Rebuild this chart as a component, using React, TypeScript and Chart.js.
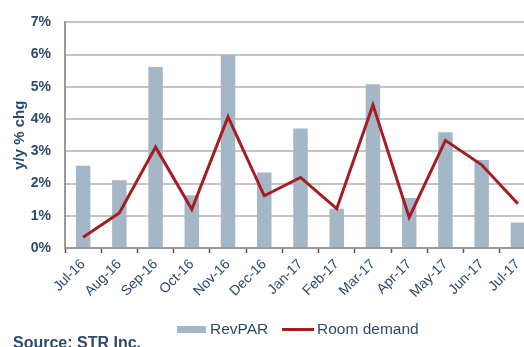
import React, { useEffect, useRef } from "react";
import { Chart, registerables } from "chart.js";

Chart.register(...registerables);

const categories = ["Jul-16", "Aug-16", "Sep-16", "Oct-16", "Nov-16", "Dec-16", "Jan-17", "Feb-17", "Mar-17", "Apr-17", "May-17", "Jun-17", "Jul-17"];
const revpar = [2.55, 2.1, 5.62, 1.64, 6.0, 2.34, 3.71, 1.22, 5.08, 1.55, 3.59, 2.73, 0.79];
const roomDemand = [0.33, 1.09, 3.13, 1.2, 4.07, 1.62, 2.19, 1.22, 4.44, 0.95, 3.34, 2.58, 1.37];
const yTicks = [0, 1, 2, 3, 4, 5, 6, 7];

const TEXT = "#2c4b6c";
const BAR = "#a4b7c6";
const LINE = "#a51d23";
const FONT = "'Liberation Sans', Arial, sans-serif";

export default function App() {
  const ref = useRef<HTMLCanvasElement | null>(null);

  useEffect(() => {
    if (!ref.current) return;
    const chart = new Chart(ref.current, {
      type: "bar",
      data: {
        labels: categories,
        datasets: [
          {
            type: "line",
            label: "Room demand",
            data: roomDemand,
            borderColor: LINE,
            backgroundColor: LINE,
            borderWidth: 3,
            pointRadius: 0,
            tension: 0,
            order: 0,
          },
          {
            type: "bar",
            label: "RevPAR",
            data: revpar,
            backgroundColor: BAR,
            barPercentage: 0.4,
            categoryPercentage: 1,
            order: 1,
          },
        ],
      },
      options: {
        responsive: false,
        animation: false,
        layout: { padding: { top: 19, left: 0, right: 4, bottom: 0 } },
        plugins: {
          legend: { display: false },
          tooltip: { enabled: false },
        },
        scales: {
          x: {
            offset: true,
            grid: {
              offset: true,
              drawOnChartArea: false,
              drawTicks: true,
              tickLength: 5,
              tickColor: "#555",
              tickWidth: 1.5,
            },
            border: { display: true, color: "#9a9a9a", width: 2 },
            ticks: {
              minRotation: 45,
              maxRotation: 45,
              padding: 3,
              color: TEXT,
              font: { family: FONT, size: 14 },
              autoSkip: false,
            },
            afterFit: (scale: any) => {
              scale.height = 99;
            },
          },
          y: {
            min: 0,
            max: 7,
            afterBuildTicks: (scale: any) => {
              scale.ticks = yTicks.map((v) => ({ value: v }));
            },
            grid: { color: "#c4c4c4", lineWidth: 2, drawTicks: false },
            border: { display: true, color: "#9a9a9a", width: 2 },
            ticks: {
              padding: 14,
              color: TEXT,
              font: { family: FONT, size: 14, weight: "bold" },
              callback: (v: any) => `${v}%`,
            },
            title: {
              display: true,
              text: "y/y % chg",
              color: TEXT,
              font: { family: FONT, size: 15, weight: "bold" },
              padding: { top: 11, bottom: 0 },
            },
            afterFit: (scale: any) => {
              scale.width = 65;
            },
          },
        },
      },
    });
    return () => chart.destroy();
  }, []);

  const textStyle: React.CSSProperties = {
    position: "absolute",
    fontFamily: FONT,
    color: TEXT,
    fontSize: 15.5,
    lineHeight: "16px",
    whiteSpace: "nowrap",
  };

  return (
    <div style={{ position: "fixed", left: 0, top: 0, width: 524, height: 347, overflow: "hidden", background: "#fff" }}>
      <canvas ref={ref} width={540} height={347} style={{ position: "absolute", left: 0, top: 0, width: 540, height: 347 }} />
      <div style={{ position: "absolute", left: 177, top: 326, width: 29, height: 7, background: BAR }} />
      <div style={{ ...textStyle, left: 210, top: 321 }}>RevPAR</div>
      <div style={{ position: "absolute", left: 282, top: 328, width: 32, height: 3, background: LINE }} />
      <div style={{ ...textStyle, left: 317, top: 321 }}>Room demand</div>
      <div style={{ ...textStyle, left: 13, top: 335, fontSize: 16, fontWeight: "bold" }}>Source: STR Inc.</div>
    </div>
  );
}
